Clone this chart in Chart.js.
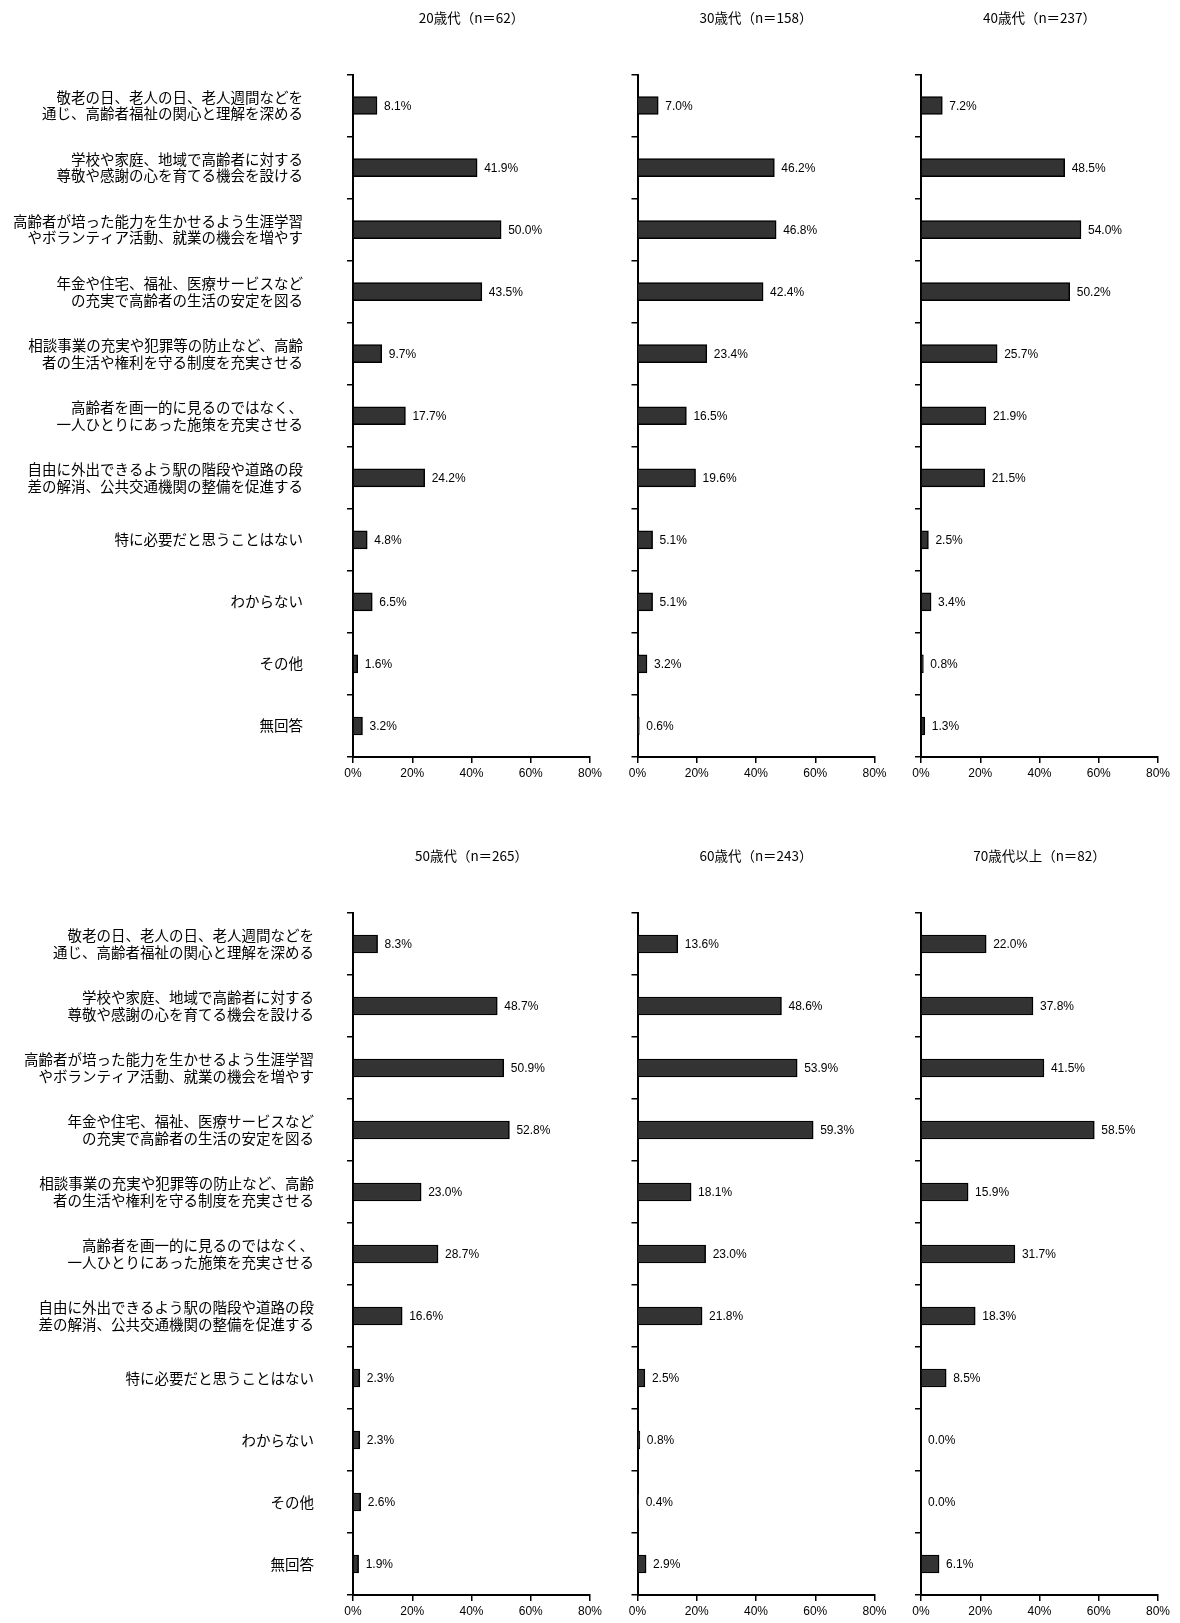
<!DOCTYPE html>
<html lang="ja">
<head>
<meta charset="utf-8">
<title>年代別</title>
<script src="https://cdn.jsdelivr.net/npm/chart.js@4.4.1/dist/chart.umd.min.js"></script>
<style>
  body { margin: 0; background: #fff; }
  #wrap { position: relative; width: 1180px; height: 1623px; }
  canvas { position: absolute; }
</style>
</head>
<body>
<div id="wrap">
  <canvas id="p20"></canvas>
  <canvas id="p30"></canvas>
  <canvas id="p40"></canvas>
  <canvas id="p50"></canvas>
  <canvas id="p60"></canvas>
  <canvas id="p70"></canvas>
</div>
<script>
// ============================================
// DATA
// ============================================
const categories = [
    ['敬老の日、老人の日、老人週間などを', '通じ、高齢者福祉の関心と理解を深める'],
    ['学校や家庭、地域で高齢者に対する', '尊敬や感謝の心を育てる機会を設ける'],
    ['高齢者が培った能力を生かせるよう生涯学習', 'やボランティア活動、就業の機会を増やす'],
    ['年金や住宅、福祉、医療サービスなど', 'の充実で高齢者の生活の安定を図る'],
    ['相談事業の充実や犯罪等の防止など、高齢', '者の生活や権利を守る制度を充実させる'],
    ['高齢者を画一的に見るのではなく、', '一人ひとりにあった施策を充実させる'],
    ['自由に外出できるよう駅の階段や道路の段', '差の解消、公共交通機関の整備を促進する'],
    '特に必要だと思うことはない',
    'わからない',
    'その他',
    '無回答'
];

const titles = [
    '20歳代（n＝62）', '30歳代（n＝158）', '40歳代（n＝237）',
    '50歳代（n＝265）', '60歳代（n＝243）', '70歳代以上（n＝82）'
];

const values20 = [8.1, 41.9, 50.0, 43.5, 9.7, 17.7, 24.2, 4.8, 6.5, 1.6, 3.2];
const values30 = [7.0, 46.2, 46.8, 42.4, 23.4, 16.5, 19.6, 5.1, 5.1, 3.2, 0.6];
const values40 = [7.2, 48.5, 54.0, 50.2, 25.7, 21.9, 21.5, 2.5, 3.4, 0.8, 1.3];
const values50 = [8.3, 48.7, 50.9, 52.8, 23.0, 28.7, 16.6, 2.3, 2.3, 2.6, 1.9];
const values60 = [13.6, 48.6, 53.9, 59.3, 18.1, 23.0, 21.8, 2.5, 0.8, 0.4, 2.9];
const values70 = [22.0, 37.8, 41.5, 58.5, 15.9, 31.7, 18.3, 8.5, 0.0, 0.0, 6.1];

const xTicks = [0, 20, 40, 60, 80];

// ============================================
// PLUGINS
// ============================================
const valueLabels = {
    id: 'valueLabels',
    afterDatasetsDraw(chart) {
        const ctx = chart.ctx;
        const meta = chart.getDatasetMeta(0);
        const data = chart.data.datasets[0].data;
        ctx.save();
        ctx.font = '12px "Liberation Sans", Arial, sans-serif';
        ctx.fillStyle = '#000';
        ctx.textAlign = 'left';
        ctx.textBaseline = 'middle';
        meta.data.forEach((bar, i) => {
            ctx.fillText(data[i].toFixed(1) + '%', bar.x + 7, bar.y + 1);
        });
        ctx.restore();
    }
};

const panelTitle = {
    id: 'panelTitle',
    afterDraw(chart, args, opts) {
        const ctx = chart.ctx;
        const area = chart.chartArea;
        ctx.save();
        ctx.font = '13.5px "Noto Sans CJK JP", sans-serif';
        ctx.fillStyle = '#000';
        ctx.textAlign = 'center';
        ctx.textBaseline = 'middle';
        ctx.fillText(opts.text, (area.left + area.right) / 2, area.top - 57);
        ctx.restore();
    }
};

// ============================================
// PANEL BUILDER
// ============================================
function makePanel(id, title, values, box) {
    const canvas = document.getElementById(id);
    canvas.width = box.w;
    canvas.height = box.h;
    canvas.style.left = box.x + 'px';
    canvas.style.top = box.y + 'px';

    return new Chart(canvas, {
        type: 'bar',
        data: {
            labels: categories,
            datasets: [{
                data: values,
                backgroundColor: '#333333',
                borderColor: '#000000',
                borderWidth: 1.5,
                borderSkipped: 'left',
                barThickness: 18
            }]
        },
        options: {
            indexAxis: 'y',
            responsive: false,
            animation: false,
            layout: {
                padding: { top: box.padTop, right: box.padRight, left: 0, bottom: 0 }
            },
            plugins: {
                legend: { display: false },
                tooltip: { enabled: false },
                panelTitle: { text: title }
            },
            scales: {
                y: {
                    offset: true,
                    grid: {
                        offset: true,
                        drawOnChartArea: false,
                        drawTicks: true,
                        tickLength: 6,
                        color: '#000',
                        lineWidth: 1.5
                    },
                    border: { display: true, color: '#000', width: 2 },
                    ticks: {
                        display: box.showLabels,
                        autoSkip: false,
                        padding: box.labelPad,
                        color: '#000',
                        font: { family: '"Noto Sans CJK JP", sans-serif', size: 14.5, lineHeight: 1.15 }
                    },
                    afterFit(scale) {
                        scale.width = box.yW;
                        scale.paddingTop = 0;
                        scale.paddingBottom = 0;
                    }
                },
                x: {
                    min: 0,
                    max: 80,
                    afterBuildTicks(scale) { scale.ticks = xTicks.map(v => ({ value: v })); },
                    grid: {
                        drawOnChartArea: false,
                        drawTicks: true,
                        tickLength: 6,
                        color: '#000',
                        lineWidth: 1.5
                    },
                    border: { display: true, color: '#000', width: 2 },
                    ticks: {
                        padding: 3,
                        color: '#000',
                        maxRotation: 0,
                        font: { family: '"Liberation Sans", Arial, sans-serif', size: 12 },
                        callback: v => v + '%'
                    },
                    afterFit(scale) { scale.height = box.xH; }
                }
            }
        },
        plugins: [valueLabels, panelTitle]
    });
}

// top row: plot area y 74.5..757 ; bottom row: 913..1595
const topRow = { y: 0, h: 787, padTop: 74.5, xH: 30 };
const botRow = { y: 787, h: 836, padTop: 126, xH: 28 };

const col1 = { x: 0, w: 610, yW: 353, padRight: 20, showLabels: true };
const col2 = { x: 610, w: 284, yW: 27.5, padRight: 19.5, showLabels: false };
const col3 = { x: 894, w: 286, yW: 27, padRight: 22, showLabels: false };

makePanel('p20', titles[0], values20, { ...topRow, ...col1, labelPad: 44 });
makePanel('p30', titles[1], values30, { ...topRow, ...col2, labelPad: 4 });
makePanel('p40', titles[2], values40, { ...topRow, ...col3, labelPad: 4 });
makePanel('p50', titles[3], values50, { ...botRow, ...col1, labelPad: 33 });
makePanel('p60', titles[4], values60, { ...botRow, ...col2, labelPad: 4 });
makePanel('p70', titles[5], values70, { ...botRow, ...col3, labelPad: 4 });
</script>
</body>
</html>
